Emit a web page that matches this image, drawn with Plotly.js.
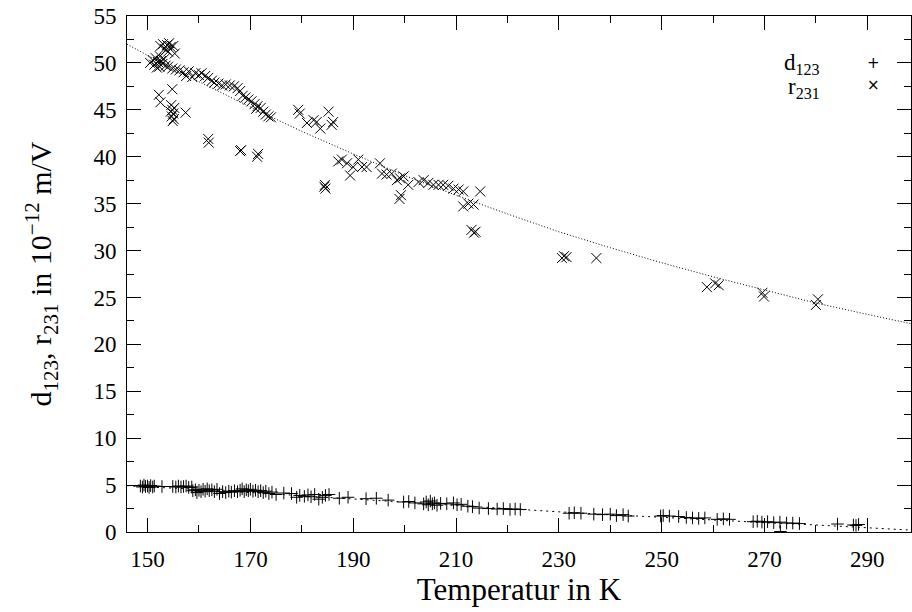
<!DOCTYPE html>
<html>
<head>
<meta charset="utf-8">
<script src="https://cdn.plot.ly/plotly-3.0.1.min.js"></script>
<style>html,body{margin:0;padding:0;background:#fff;}#chart{width:912px;height:612px;}</style>
</head>
<body>
<div id="chart"></div>
<script>
// d123 measurements (+)
const dT = [148.6,149.0,149.3,149.6,150.0,150.3,150.6,151.0,151.3,152.8,154.9,155.5,156.0,156.5,157.0,157.5,158.0,158.6,158.8,159.3,159.6,160.0,160.4,160.8,161.2,161.6,162.0,162.5,163.0,163.5,164.0,164.6,165.2,165.8,166.3,166.9,167.5,168.0,168.4,168.8,169.2,169.6,170.0,170.5,171.0,171.5,172.0,172.5,173.0,173.6,174.2,175.0,176.5,178.0,179.0,179.6,180.5,181.2,181.8,182.5,183.3,184.0,184.6,185.3,187.3,189.0,192.5,194.5,196.8,199.8,200.8,202.0,203.7,204.2,204.6,205.0,205.4,205.8,206.3,207.0,208.2,209.5,210.2,211.0,212.3,213.2,214.5,216.3,218.0,219.2,220.5,221.5,222.5,232.0,233.0,234.3,236.8,238.5,240.0,241.2,242.5,243.5,249.8,250.3,251.5,253.3,254.8,256.0,257.2,258.4,260.8,262.0,263.2,267.8,268.6,269.5,270.6,271.8,273.0,274.3,275.5,276.8,273.1,284.2,287.3,287.8,288.3];
const dV = [4.9,4.8,5.0,4.85,4.9,4.75,4.95,4.8,4.9,4.85,4.85,4.8,4.9,4.8,4.85,4.9,4.75,4.8,4.4,4.5,4.2,4.45,4.3,4.55,4.35,4.6,4.4,4.5,4.3,4.55,4.1,4.3,4.2,4.35,4.25,4.4,4.3,4.45,4.6,4.3,4.5,4.4,4.55,4.35,4.45,4.3,4.4,4.2,4.35,4.1,4.25,4.0,4.15,4.1,3.7,3.9,3.8,3.95,3.75,4.0,3.5,3.7,3.9,4.0,3.6,3.7,3.55,3.6,3.4,3.2,3.25,3.1,3.0,3.2,2.9,3.3,3.0,3.1,2.85,3.05,3.0,3.1,2.9,2.95,2.75,2.7,2.55,2.5,2.45,2.5,2.4,2.45,2.4,2.0,2.05,2.0,1.9,1.85,1.9,1.75,1.85,1.7,1.7,1.75,1.7,1.65,1.55,1.5,1.45,1.5,1.35,1.4,1.35,1.1,1.15,1.05,1.1,1.0,1.05,0.95,0.95,0.9,0.05,0.85,0.75,0.7,0.8];

// r231 measurements (x)
const rT = [152.5,153.0,153.3,153.8,154.2,154.5,155.0,155.3,153.6,154.0,
  150.5,151.0,151.3,151.6,152.0,152.3,152.6,152.9,153.2,153.5,151.8,152.4,
  154.0,154.8,155.5,156.2,157.0,157.5,158.0,158.7,159.3,160.0,160.5,161.2,161.8,162.5,163.0,163.8,164.5,165.2,166.0,166.8,167.5,168.0,168.5,169.0,169.6,170.2,170.8,171.4,172.0,172.5,173.0,173.5,174.0,171.1,
  152.2,152.5,154.8,154.6,154.8,155.0,154.7,155.1,154.9,155.2,154.5,157.4,161.8,161.9,168.0,168.2,171.5,171.3,184.5,184.6,184.4,
  179.3,179.6,181.0,182.3,182.9,183.6,185.2,185.8,186.1,
  187.1,187.8,188.8,189.4,190.0,191.0,191.7,192.6,195.2,195.6,196.5,197.5,198.5,199.1,199.8,200.7,202.7,203.7,204.6,205.6,206.6,207.5,208.5,209.5,210.5,211.4,
  199.0,199.3,211.4,212.4,213.4,213.0,213.5,213.8,214.7,
  230.6,231.0,231.5,237.3,258.8,260.4,261.1,269.6,269.9,280.4,280.0];
const rV = [51.8,52.0,51.5,51.9,52.1,51.7,51.8,51.0,51.4,51.2,
  50.0,50.3,49.8,50.5,50.1,49.6,50.2,49.9,50.4,49.7,49.5,50.7,
  49.6,49.4,49.3,49.2,49.0,48.6,49.1,48.5,48.9,48.7,48.9,48.6,48.4,48.1,47.9,47.8,47.6,47.7,47.6,47.5,47.3,47.0,46.5,46.3,46.1,45.9,45.6,45.4,45.2,44.8,44.5,44.3,44.2,45.1,
  46.6,45.8,47.2,45.5,45.0,44.6,44.3,44.0,43.8,45.2,44.8,44.7,41.9,41.5,40.6,40.7,40.3,40.0,37.0,36.6,36.8,
  45.0,44.6,43.6,43.9,43.7,43.0,44.8,43.4,43.7,
  39.5,39.7,39.3,38.0,38.9,39.7,38.9,38.9,39.3,38.2,38.1,38.2,37.5,37.7,37.9,37.0,37.3,37.5,37.2,37.0,37.0,37.0,36.9,36.6,36.5,36.3,
  35.5,35.9,34.7,35.0,34.9,32.2,31.9,32.0,36.3,
  29.2,29.4,29.3,29.2,26.1,26.5,26.3,25.5,25.1,24.8,24.2];

// fitted curves (dotted)
const fitT = [146,150,160,170,180,190,200,210,220,230,240,250,260,270,280,290,298.5];
const fitR = [52.0,50.8,48.0,45.3,42.7,40.3,38.0,35.9,33.9,32.0,30.3,28.7,27.2,25.8,24.4,23.2,22.2];
const fitD = [4.95,4.8,4.55,4.2,3.9,3.55,3.2,2.85,2.45,2.15,1.85,1.55,1.25,1.0,0.75,0.45,0.2];

const xTickVals = [150,170,190,210,230,250,270,290];
const yTickVals = [0,5,10,15,20,25,30,35,40,45,50,55];
const legendNames = ['d<sub>123</sub>', 'r<sub>231</sub>'];
const legendSymbols = ['+', '×'];

const FONT = "'Liberation Serif', 'Times New Roman', serif";

const traces = [
  {x: fitT, y: fitR, mode: 'lines', line: {color: '#000', width: 1, dash: '1px,2px'}, hoverinfo: 'skip', showlegend: false},
  {x: fitT, y: fitD, mode: 'lines', line: {color: '#000', width: 1, dash: '2px,4px'}, hoverinfo: 'skip', showlegend: false},
  {x: dT, y: dV, mode: 'markers', name: 'd123', marker: {symbol: 'cross-thin', size: 9, line: {color: '#000', width: 1}, color: '#000'}, showlegend: false},
  {x: rT, y: rV, mode: 'markers', name: 'r231', marker: {symbol: 'x-thin', size: 10, line: {color: '#000', width: 1}, color: '#000'}, showlegend: false}
];

const annotations = [
  {xref: 'paper', yref: 'paper', x: 0.8865, y: 0.907, xanchor: 'right', yanchor: 'middle', text: legendNames[0], showarrow: false, font: {family: FONT, size: 23, color: '#000'}},
  {xref: 'paper', yref: 'paper', x: 0.8865, y: 0.86, xanchor: 'right', yanchor: 'middle', text: legendNames[1], showarrow: false, font: {family: FONT, size: 23, color: '#000'}},
  {xref: 'paper', yref: 'paper', x: 0.9525, y: 0.909, xanchor: 'center', yanchor: 'middle', text: legendSymbols[0], showarrow: false, font: {family: 'DejaVu Sans', size: 15, color: '#000'}},
  {xref: 'paper', yref: 'paper', x: 0.9525, y: 0.866, xanchor: 'center', yanchor: 'middle', text: legendSymbols[1], showarrow: false, font: {family: 'DejaVu Sans', size: 15, color: '#000'}}
];

const layout = {
  width: 912, height: 612,
  margin: {l: 127, r: 1, t: 16, b: 80, pad: 0},
  paper_bgcolor: '#fff', plot_bgcolor: '#fff',
  font: {family: FONT, color: '#000', size: 23},
  showlegend: false,
  xaxis: {
    range: [146, 298.5], tickvals: xTickVals, ticktext: xTickVals.map(String),
    ticks: 'inside', ticklen: 14, tickwidth: 1, tickcolor: '#000',
    minor: {dtick: 10, tick0: 150, ticks: 'inside', ticklen: 7, tickwidth: 1, tickcolor: '#000', showgrid: false},
    showline: true, linecolor: '#000', linewidth: 1, mirror: 'ticks',
    showgrid: false, zeroline: false,
    tickfont: {family: FONT, size: 23, color: '#000'}, ticklabelstandoff: 6,
    title: {text: 'Temperatur in K', font: {family: FONT, size: 31, color: '#000'}, standoff: 3}
  },
  yaxis: {
    range: [0, 55], tickvals: yTickVals, ticktext: yTickVals.map(String),
    ticks: 'inside', ticklen: 14, tickwidth: 1, tickcolor: '#000',
    minor: {dtick: 2.5, tick0: 0, ticks: 'inside', ticklen: 7, tickwidth: 1, tickcolor: '#000', showgrid: false},
    showline: true, linecolor: '#000', linewidth: 1, mirror: 'ticks',
    showgrid: false, zeroline: false,
    tickfont: {family: FONT, size: 23, color: '#000'}, ticklabelstandoff: 5,
    title: {text: 'd<sub>123</sub>, r<sub>231</sub> in 10<sup>−12</sup> m/V', font: {family: FONT, size: 30, color: '#000'}, standoff: 32}
  },
  annotations: annotations
};

Plotly.newPlot('chart', traces, layout, {staticPlot: true, displayModeBar: false});
</script>
</body>
</html>
